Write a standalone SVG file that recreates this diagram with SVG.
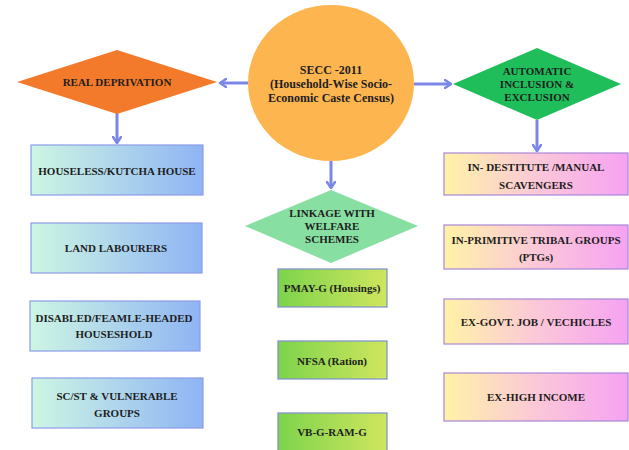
<svg xmlns="http://www.w3.org/2000/svg" width="629" height="450" viewBox="0 0 629 450">
<style>
text{font-family:"Liberation Serif","Times New Roman",serif;font-weight:bold;fill:#1e1e1e;text-anchor:middle;dominant-baseline:central}
.t{font-size:11px}
.c{font-size:12px}
.conn line{stroke:#7b86e6;stroke-width:3;fill:none}
.lb{fill:url(#gl);stroke:#8c9be8;stroke-width:1.2}
.cb{fill:url(#gc);stroke:#7d8fd0;stroke-width:1.2}
.rb{fill:url(#gr);stroke:#a888d8;stroke-width:1.2}
</style>
<defs>
<linearGradient id="gl" x1="0" y1="0" x2="1" y2="0"><stop offset="0" stop-color="#cdf6e3"/><stop offset="1" stop-color="#8fb4f4"/></linearGradient>
<linearGradient id="gc" x1="0" y1="0" x2="1" y2="0"><stop offset="0" stop-color="#7ed34c"/><stop offset="1" stop-color="#cfe65e"/></linearGradient>
<linearGradient id="gr" x1="0" y1="0" x2="1" y2="0"><stop offset="0" stop-color="#fff3a6"/><stop offset="0.5" stop-color="#fbc8d8"/><stop offset="1" stop-color="#f6a2f2"/></linearGradient>
<marker id="ah" markerWidth="10" markerHeight="10" refX="7" refY="5" orient="auto" markerUnits="userSpaceOnUse">
<path d="M1,1 L7,5 L1,9" fill="none" stroke="#7b86e6" stroke-width="2.5" stroke-linecap="round" stroke-linejoin="round"/>
</marker>
</defs>
<rect width="629" height="450" fill="#ffffff"/>
<g class="conn" id="connectors">
<line x1="248" y1="83" x2="220" y2="83" marker-end="url(#ah)"/>
<line x1="414" y1="84" x2="451" y2="84" marker-end="url(#ah)"/>
<line x1="331" y1="160" x2="331" y2="188" marker-end="url(#ah)"/>
<line x1="117" y1="113" x2="117" y2="143" marker-end="url(#ah)"/>
<line x1="537" y1="120" x2="537" y2="151" marker-end="url(#ah)"/>
</g>
<g id="secc">
<ellipse cx="331" cy="83" rx="83" ry="78" fill="#fdb550"/>
<text class="c" x="331" y="70">SECC -2011</text>
<text class="c" x="331" y="84">(Household-Wise Socio-</text>
<text class="c" x="331" y="98">Economic Caste Census)</text>
</g>
<g id="real-deprivation">
<polygon points="17,82 117,50 217,82 117,114" fill="#f47a2b"/>
<text class="t" x="117" y="82">REAL DEPRIVATION</text>
</g>
<g id="automatic">
<polygon points="453,84 537,48 621,84 537,120" fill="#1fbe5a"/>
<text class="t" x="537" y="71">AUTOMATIC</text>
<text class="t" x="537" y="84">INCLUSION &amp;</text>
<text class="t" x="537" y="97">EXCLUSION</text>
</g>
<g id="linkage">
<polygon points="245,226 331,190 418,226 331,263" fill="#88dfa2"/>
<text class="t" x="332" y="213">LINKAGE WITH</text>
<text class="t" x="332" y="226">WELFARE</text>
<text class="t" x="332" y="239">SCHEMES</text>
</g>
<g id="houseless">
<rect class="lb" x="31" y="145" width="172" height="50"/>
<text class="t" x="117" y="171">HOUSELESS/KUTCHA HOUSE</text>
</g>
<g id="land-labourers">
<rect class="lb" x="31" y="223" width="171" height="50"/>
<text class="t" x="116" y="248">LAND LABOURERS</text>
</g>
<g id="disabled">
<rect class="lb" x="30" y="301" width="170" height="50"/>
<text class="t" x="114" y="318">DISABLED/FEAMLE-HEADED</text>
<text class="t" x="114" y="334">HOUSESHOLD</text>
</g>
<g id="scst">
<rect class="lb" x="32" y="378" width="171" height="50"/>
<text class="t" x="117" y="396">SC/ST &amp; VULNERABLE</text>
<text class="t" x="117" y="413">GROUPS</text>
</g>
<g id="pmay">
<rect class="cb" x="278" y="269" width="109" height="38"/>
<text class="t" x="332" y="288">PMAY-G (Housings)</text>
</g>
<g id="nfsa">
<rect class="cb" x="278" y="341" width="109" height="38"/>
<text class="t" x="332" y="361">NFSA (Ration)</text>
</g>
<g id="vbg">
<rect class="cb" x="278" y="413" width="109" height="40"/>
<text class="t" x="332" y="432">VB-G-RAM-G</text>
</g>
<g id="destitute">
<rect class="rb" x="444" y="153" width="184" height="42"/>
<text class="t" x="536" y="167">IN- DESTITUTE /MANUAL</text>
<text class="t" x="536" y="185">SCAVENGERS</text>
</g>
<g id="ptg">
<rect class="rb" x="444" y="225" width="184" height="44"/>
<text class="t" x="536" y="240">IN-PRIMITIVE TRIBAL GROUPS</text>
<text class="t" x="536" y="257">(PTGs)</text>
</g>
<g id="govt">
<rect class="rb" x="444" y="299" width="184" height="45"/>
<text class="t" x="536" y="322">EX-GOVT. JOB / VECHICLES</text>
</g>
<g id="income">
<rect class="rb" x="444" y="373" width="184" height="48"/>
<text class="t" x="536" y="397">EX-HIGH INCOME</text>
</g>
</svg>
